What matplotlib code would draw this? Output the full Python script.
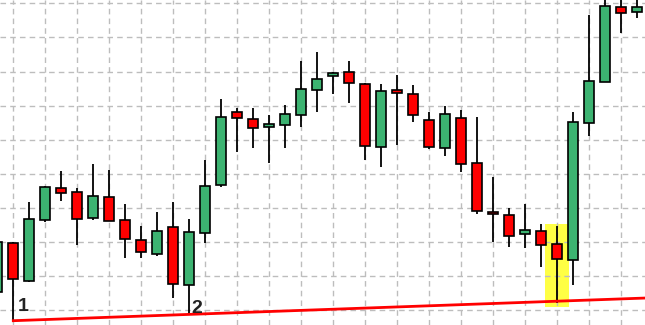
#!/usr/bin/env python3

import numpy as np
from matplotlib import pyplot as plt
from matplotlib.patches import Rectangle

# candle index, first one is cut off at the left edge
idx = np.arange(-1, 40)

opens = [51.06, 53.94, 51.74, 55.27, 57.18, 56.94, 55.39, 56.65, 55.29, 54.12,
         53.33, 54.88, 51.47, 54.53, 57.35, 61.65, 61.24, 60.76, 60.88, 61.45,
         62.94, 63.71, 64.00, 63.29, 59.59, 62.94, 62.71, 61.18, 59.53, 61.29,
         58.65, 55.76, 55.59, 54.47, 54.65, 53.88, 52.94, 61.00, 63.41, 67.76,
         67.47]
highs = [54.25, 53.99, 56.37, 57.28, 58.19, 57.18, 58.55, 58.24, 56.25, 54.96,
         55.74, 56.37, 55.35, 58.84, 62.37, 61.84, 61.84, 61.43, 62.02, 64.61,
         65.14, 63.96, 64.61, 63.34, 63.25, 63.78, 63.19, 61.61, 61.96, 61.72,
         61.31, 57.84, 56.00, 56.25, 55.06, 54.92, 61.61, 67.31, 68.43, 68.43,
         68.43]
lows = [50.84, 49.39, 51.66, 55.15, 56.43, 53.84, 55.31, 55.22, 53.04, 53.09,
        53.21, 50.74, 49.76, 53.92, 57.21, 59.27, 59.51, 58.61, 59.51, 60.74,
        61.62, 62.66, 62.14, 58.84, 58.39, 59.68, 61.04, 59.45, 59.04, 58.09,
        55.65, 53.98, 53.74, 53.68, 52.56, 50.41, 51.51, 60.21, 63.40, 66.27,
        67.12]
closes = [54.00, 51.82, 55.35, 57.24, 56.88, 55.35, 56.71, 55.24, 54.18, 53.41,
          54.65, 51.53, 54.59, 57.29, 61.35, 61.29, 60.71, 60.94, 61.53, 63.00,
          63.59, 63.94, 63.35, 59.65, 62.88, 62.76, 61.47, 59.59, 61.53, 58.59,
          55.82, 55.65, 54.35, 54.71, 53.82, 53.00, 61.06, 63.47, 67.82, 67.41,
          67.76]

pivots = [0, 11]        # candles whose lows define the trendline
pivot_labels = ["1", "2"]
label_x = [0.28, 11.12]
label_y = [49.98, 49.86]
marked = 34             # highlighted candle
mark_top, mark_bottom = 55.06, 50.21

up_color = '#3cb371'
down_color = '#ff0000'


def main():
    fig = plt.figure(figsize=(6.45, 3.25), dpi=100)
    ax = fig.add_axes([0, 0, 1, 1])
    ax.set_xlim(-0.83, 39.48)
    ax.set_ylim(49.138, 68.193)

    ax.set_xticks(np.arange(0, 40, 2))
    ax.set_yticks(np.arange(50, 69, 2))
    ax.grid(True, color='#bdbdbd', linestyle=(0, (4, 3)), linewidth=1.0, zorder=0)
    ax.tick_params(length=0, labelbottom=False, labelleft=False)
    for s in ax.spines.values():
        s.set_visible(False)

    # highlight box
    ax.add_patch(Rectangle((marked - 0.75, mark_bottom), 1.5, mark_top - mark_bottom,
                           facecolor='#ffff44', edgecolor='none', zorder=1))

    o = np.array(opens)
    c = np.array(closes)
    colors = [up_color if cc >= oo else down_color for oo, cc in zip(o, c)]
    ax.vlines(idx, lows, highs, color='black', linewidth=1.3, zorder=2)
    ax.bar(idx, np.abs(c - o), bottom=np.minimum(o, c), width=0.62,
           color=colors, edgecolor='black', linewidth=1.2, zorder=3)

    # trendline through the two lows
    x0, x1 = pivots
    y0, y1 = lows[x0 + 1], lows[x1 + 1]
    slope = (y1 - y0) / (x1 - x0)
    xs = np.array([x0, 40])
    ax.plot(xs, y0 + slope * (xs - x0), color='#ff0000', linewidth=2, zorder=4)

    for lx, ly, lab in zip(label_x, label_y, pivot_labels):
        ax.text(lx, ly, lab, fontsize=14, fontweight='bold',
                family='Liberation Sans', color='#222222', ha='left', va='baseline',
                zorder=5)

    fig.savefig('out.png', dpi=100)


if __name__ == "__main__":
    main()
